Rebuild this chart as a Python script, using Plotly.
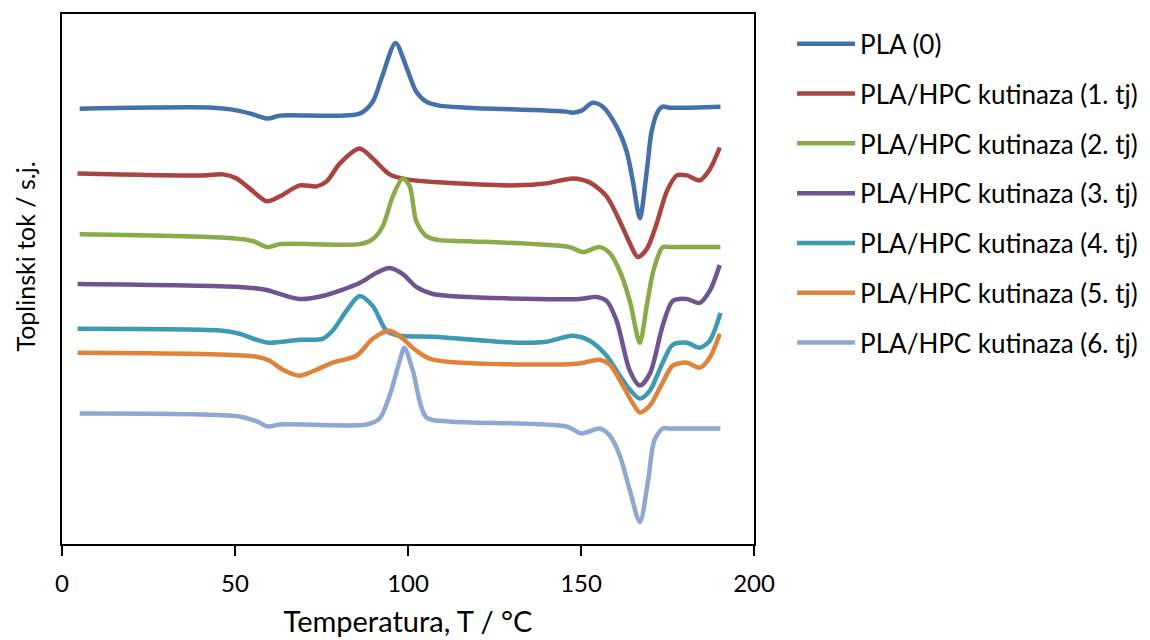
import plotly.graph_objs as go

# temperature (°C) and heat flow readings (arbitrary units, read downward like the picture)
t_0 = [5.1, 43.6, 49.3, 54.5, 59.4, 63, 86, 89.8, 92.5, 96.4, 99.5, 102.4, 105.3, 109, 116.9,
       145.8, 147.6, 150.2, 153.3, 156.3, 160.3, 163.2, 165, 167, 169, 170.4, 172.2, 173.6, 175.6, 190.3]
hf_0 = [107, 106, 108, 112, 117, 114, 112, 100, 75, 41, 65, 90, 100, 104, 106,
        110, 111, 109, 101, 105, 125, 150, 180, 217, 170, 130, 110, 105, 106, 105]

t_1 = [4.5, 40.7, 46.5, 50.4, 54.2, 59.2, 63, 68.7, 73.6, 76.5, 80.3, 86, 89.8, 94.7, 99.6, 109, 131.4,
       140, 147.6, 152.5, 157.4, 161.2, 164.1, 166.4, 169, 171.9, 174.8, 177.7, 180.6, 184.3, 187.2, 190.1]
hf_1 = [172, 174, 173, 177, 187, 200, 195, 184, 185, 180, 162, 147, 157, 173, 178, 181, 184,
        182, 177, 181, 195, 220, 242, 256, 248, 222, 190, 174, 174, 179, 168, 146]

t_2 = [5.1, 49.3, 55.2, 59.4, 63, 86, 89.8, 92.7, 95.6, 98.5, 100.5, 102.4, 105.3, 109, 116.9,
       146.7, 150.5, 155.4, 158.3, 161.2, 164.1, 167, 169, 170.9, 173.6, 175.6, 190.3]
hf_2 = [233, 237, 240, 246, 243, 243, 238, 225, 195, 177, 185, 220, 235, 239, 240,
        246, 251, 246, 252, 270, 300, 342, 305, 270, 246, 246, 246]

t_3 = [4.5, 51.3, 59.2, 63.8, 68.7, 75.3, 86, 90.8, 94.7, 98.5, 102.4, 107.2, 149.6, 154.5,
       157.4, 160.3, 164.1, 167, 169.9, 173.6, 176.5, 180.6, 184.3, 187.2, 190.1]
hf_3 = [283, 286, 289, 294, 298, 295, 282, 272, 267, 273, 286, 293, 298, 296,
        300, 320, 370, 385, 373, 325, 300, 298, 302, 290, 264]

t_4 = [4.5, 46.5, 51.3, 56.3, 60, 68.7, 75.3, 78.2, 82.2, 86, 89.8, 93.8, 97.6, 107.2, 131.4,
       140, 147.6, 152.5, 157.4, 161.2, 164.1, 167, 169.9, 173.6, 176.5, 180.6, 184.3, 187.2, 190.3]
hf_4 = [328, 330, 333, 339, 342, 339, 338, 330, 310, 295, 305, 330, 335, 336, 342,
        341, 335, 340, 355, 375, 389, 398, 390, 362, 344, 342, 347, 340, 312]

t_5 = [4.5, 56.3, 60, 63.8, 68.7, 73.6, 78.2, 85.1, 89.8, 94.7, 98.5, 102.4, 107.2, 148.7,
       155.4, 158.3, 162.1, 165, 167, 169.9, 173.6, 176.5, 180.6, 184.3, 187.2, 190.1]
hf_5 = [352, 356, 360, 369, 375, 369, 362, 355, 338, 330, 338, 350, 359, 363,
        359, 364, 385, 403, 412, 405, 382, 365, 362, 367, 357, 333]

t_6 = [5.1, 51.3, 56.3, 59.4, 63, 88, 91.8, 94.7, 97.6, 99, 101.4, 105.3, 112, 145.8,
       150.2, 155.4, 158.3, 161.2, 164.1, 167, 169.4, 171.2, 173.6, 175.6, 190.3]
hf_6 = [413, 416, 421, 426, 424, 424, 418, 395, 360, 347, 370, 417, 421, 426,
        433, 428, 435, 455, 490, 522, 480, 440, 428, 428, 428]

names = ['PLA (0)', 'PLA/HPC kutinaza (1. tj)', 'PLA/HPC kutinaza (2. tj)', 'PLA/HPC kutinaza (3. tj)',
         'PLA/HPC kutinaza (4. tj)', 'PLA/HPC kutinaza (5. tj)', 'PLA/HPC kutinaza (6. tj)']
colors = ['#4471A9', '#AA4441', '#8BAA4A', '#6E5591', '#3C9AB2', '#E0833A', '#8FA8D1']
temps = [t_0, t_1, t_2, t_3, t_4, t_5, t_6]
flows = [hf_0, hf_1, hf_2, hf_3, hf_4, hf_5, hf_6]

fig = go.Figure()
for i in range(len(names)):
    fig.add_trace(go.Scatter(
        x=temps[i], y=flows[i], mode='lines', name=names[i],
        line=dict(color=colors[i], width=4.5, shape='spline', smoothing=0.8),
        legendgroup=str(i)
    ))

# page body has an 8px margin, so the figure is a bit smaller than the window
fig.update_layout(
    width=1142, height=632,
    margin=dict(l=54, r=396, t=4, b=96),
    plot_bgcolor='white', paper_bgcolor='white',
    font=dict(family='Lato', size=24, color='black'),
    showlegend=True,
    legend=dict(x=1.055, y=0.988, xanchor='left', yanchor='top',
                tracegroupgap=13, itemwidth=58, font=dict(family='Lato', size=26))
)

# y title as annotation so it sits where the original has it
fig.add_annotation(text='Toplinski tok / s.j.', xref='paper', yref='paper',
                   x=-0.053, y=0.543, xanchor='center', yanchor='middle',
                   textangle=-90, showarrow=False,
                   font=dict(family='Lato', size=25, color='black'))

fig.update_xaxes(range=[0, 200], tickvals=[0, 50, 100, 150, 200],
                 showline=True, linewidth=2, linecolor='black', mirror=True,
                 ticks='outside', ticklen=10, tickwidth=2, tickcolor='black',
                 ticklabelstandoff=7, showgrid=False, zeroline=False,
                 title=dict(text='Temperatura, T / °C', standoff=16))
fig.update_yaxes(range=[544, 12], showticklabels=False, ticks='',
                 showline=True, linewidth=2, linecolor='black', mirror=True,
                 showgrid=False, zeroline=False)

fig.write_html('out.html')
